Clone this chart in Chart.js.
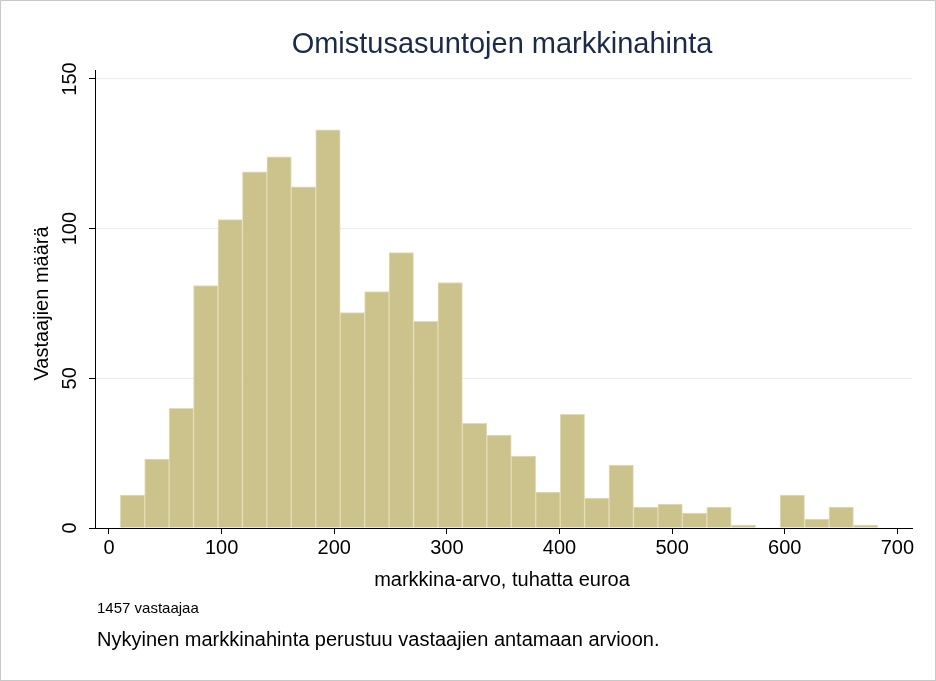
<!DOCTYPE html>
<html><head><meta charset="utf-8">
<script src="https://cdn.jsdelivr.net/npm/chart.js@4"></script>
<style>html,body{margin:0;padding:0;background:#fff}#wrap{width:936px;height:681px}</style>
</head><body><div id="wrap"><canvas id="c" width="936" height="681"></canvas></div>
<script>
const binStart = 10;
const binWidth = 21.7;
const counts = [11, 23, 40, 81, 103, 119, 124, 114, 133, 72, 79, 92, 69, 82, 35, 31, 24, 12, 38, 10, 21, 7, 8, 5, 7, 1, 0, 11, 3, 7, 1];
const xTicks = [0, 100, 200, 300, 400, 500, 600, 700];
const yTicks = [0, 50, 100, 150];

const font = '"Liberation Sans", Arial, sans-serif';
const points = counts.map((c, i) => ({ x: binStart + binWidth * (i + 0.5), y: c }));

const textPlugin = {
  id: 'texts',
  afterDraw(chart) {
    const ctx = chart.ctx, y = chart.scales.y, a = chart.chartArea;
    ctx.save();
    ctx.strokeStyle = '#c8c8c8'; ctx.lineWidth = 1;
    ctx.strokeRect(0.5, 0.5, 935, 680);
    ctx.fillStyle = '#1a2a48';
    ctx.font = '29px ' + font; ctx.textAlign = 'center'; ctx.textBaseline = 'middle';
    ctx.fillText('Omistusasuntojen markkinahinta', 502, 45);
    ctx.fillStyle = '#000';
    ctx.font = '20px ' + font;
    yTicks.forEach(v => {
      ctx.save(); ctx.translate(a.left - 25, y.getPixelForValue(v)); ctx.rotate(-Math.PI / 2);
      ctx.fillText(String(v), 0, 0); ctx.restore();
    });
    ctx.save(); ctx.translate(42, y.getPixelForValue(75)); ctx.rotate(-Math.PI / 2);
    ctx.fillText('Vastaajien määrä', 0, 0); ctx.restore();
    ctx.fillText('markkina-arvo, tuhatta euroa', 502, 580);
    ctx.textAlign = 'left';
    ctx.font = '15px ' + font;
    ctx.fillText('1457 vastaajaa', 97, 609);
    ctx.font = '20px ' + font;
    ctx.fillText('Nykyinen markkinahinta perustuu vastaajien antamaan arvioon.', 97, 640);
    ctx.restore();
  }
};

new Chart(document.getElementById('c'), {
  type: 'bar',
  data: { datasets: [{
    data: points,
    backgroundColor: '#cbc38b',
    borderColor: '#e2ddb6',
    borderWidth: 1,
    barPercentage: 1, categoryPercentage: 1, grouped: false
  }]},
  options: {
    responsive: false, animation: false,
    layout: { padding: { left: 0, right: 24, top: 70, bottom: 0 } },
    plugins: { legend: { display: false }, tooltip: { enabled: false } },
    scales: {
      x: {
        type: 'linear', min: -12.4, max: 713, offset: false,
        afterBuildTicks: s => { s.ticks = xTicks.map(v => ({ value: v })); },
        afterFit: s => { s.height = 153; },
        grid: { display: true, offset: false, drawOnChartArea: false, drawTicks: true, tickLength: 6, color: '#000' },
        border: { color: '#000' },
        ticks: { color: '#000', font: { family: font, size: 20 }, padding: 2, maxRotation: 0 }
      },
      y: {
        min: 0, max: 153,
        afterBuildTicks: s => { s.ticks = yTicks.map(v => ({ value: v })); },
        afterFit: s => { s.width = 95; },
        grid: { color: '#e8eef0', tickLength: 6, tickColor: '#000' },
        border: { color: '#000' },
        ticks: { display: true, color: 'rgba(0,0,0,0)', font: { size: 1 } }
      }
    }
  },
  plugins: [textPlugin]
});
</script></body></html>
